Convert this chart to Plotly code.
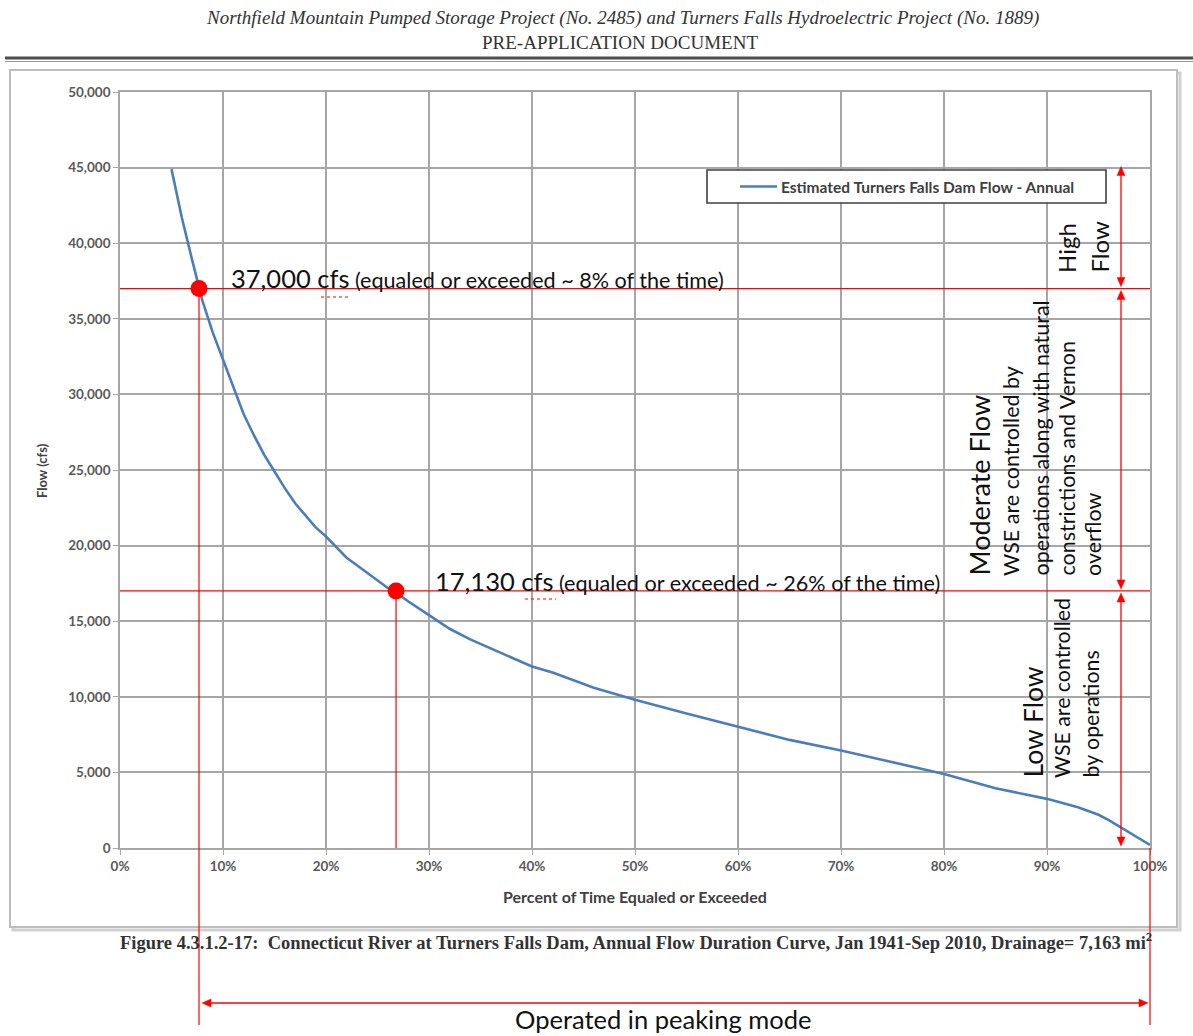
import plotly.graph_objects as go

# ---------------- data ----------------
pct = [5, 6, 7, 7.6, 8, 9, 10, 11, 12, 13, 14, 15, 16, 17, 18, 19, 20, 21, 22, 23,
       24, 25, 26, 27, 28, 30, 32, 34, 36, 38, 40, 42, 44, 46, 48, 50, 55, 60, 65,
       70, 75, 80, 85, 90, 93, 95, 96, 97, 98, 99, 100]
flow = [44900, 41700, 38900, 37300, 36200, 34100, 32300, 30400, 28700, 27300, 26000,
        24900, 23800, 22800, 22000, 21200, 20600, 19900, 19200, 18700, 18200, 17700,
        17200, 16800, 16300, 15400, 14500, 13800, 13200, 12600, 12000, 11600, 11100,
        10600, 10200, 9800, 8900, 8000, 7150, 6450, 5700, 4900, 3950, 3250, 2700,
        2200, 1850, 1450, 1000, 600, 200]
mark_pct = [7.67, 26.8]
mark_flow = [37000, 17000]
thresholds = [37000, 17000]
high_top = 45200
x_ticks = list(range(0, 101, 10))
x_ticktext = [f"{v}%" for v in x_ticks]
y_ticks = list(range(0, 50001, 5000))
series_name = "Estimated Turners Falls Dam Flow - Annual"

# ---------------- geometry (page pixels) ----------------
W, H = 1193, 1036
L, R, T, B = 120, 1150, 92, 848


def px(xp):
    return (xp - L) / (R - L)


def py(yp):
    return (B - yp) / (B - T)


def fy(v):  # flow value -> paper y
    return v / 50000


def fx(v):  # percent -> paper x
    return v / 100


def vpix(v):  # flow value -> page pixel y
    return B - fy(v) * (B - T)


RED = "#ff0000"
GRID = "#a6a6a6"
TXT = "#595959"
SANS = "Lato, 'Open Sans', sans-serif"
SERIF = "'Liberation Serif', 'DejaVu Serif', serif"

fig = go.Figure()
fig.add_trace(go.Scatter(x=pct, y=flow, mode="lines", name=series_name,
                         line=dict(color="#4a7ebb", width=2.6), showlegend=False))
fig.add_trace(go.Scatter(x=mark_pct, y=mark_flow, mode="markers", showlegend=False,
                         marker=dict(color=RED, size=17), cliponaxis=False))

shapes = []
# page frame shadow + frame
shapes.append(dict(type="rect", xref="paper", yref="paper", x0=px(13), x1=px(1180),
                   y0=py(930), y1=py(73), line=dict(color="#d0d0d0", width=3), layer="below"))
shapes.append(dict(type="rect", xref="paper", yref="paper", x0=px(10), x1=px(1177),
                   y0=py(927), y1=py(70), line=dict(color="#bdbdbd", width=2),
                   fillcolor="white", layer="below"))
# header rule (double)
shapes.append(dict(type="line", xref="paper", yref="paper", x0=px(5), x1=px(1193),
                   y0=py(58), y1=py(58), line=dict(color="#4d4d4d", width=3)))
shapes.append(dict(type="line", xref="paper", yref="paper", x0=px(5), x1=px(1193),
                   y0=py(61.5), y1=py(61.5), line=dict(color="#9a9a9a", width=1)))

# red threshold lines
for v in thresholds:
    shapes.append(dict(type="line", xref="x", yref="y", x0=0, x1=100, y0=v, y1=v,
                       line=dict(color=RED, width=1.2)))
# red vertical drop lines
shapes.append(dict(type="line", xref="paper", yref="paper", x0=fx(mark_pct[0]), x1=fx(mark_pct[0]),
                   y0=fy(mark_flow[0]), y1=py(1025), line=dict(color=RED, width=1.2)))
shapes.append(dict(type="line", xref="paper", yref="paper", x0=fx(mark_pct[1]), x1=fx(mark_pct[1]),
                   y0=fy(mark_flow[1]), y1=0, line=dict(color=RED, width=1.2)))
shapes.append(dict(type="line", xref="paper", yref="paper", x0=1, x1=1,
                   y0=0, y1=py(1025), line=dict(color=RED, width=1.2)))
# spell-check squiggles under "cfs"
shapes.append(dict(type="line", xref="paper", yref="paper", x0=px(321), x1=px(350),
                   y0=py(297), y1=py(297), line=dict(color=RED, width=1.2, dash="dot")))
shapes.append(dict(type="line", xref="paper", yref="paper", x0=px(525), x1=px(556),
                   y0=py(599), y1=py(599), line=dict(color=RED, width=1.2, dash="dot")))


def tri(tip_x, tip_y, dx, dy):
    # arrowhead triangle with tip at (tip_x, tip_y)
    hl, hw = 9, 4
    if dx == 0:
        bx0, by0 = tip_x - hw, tip_y + dy * hl
        bx1, by1 = tip_x + hw, tip_y + dy * hl
    else:
        bx0, by0 = tip_x + dx * hl, tip_y - hw
        bx1, by1 = tip_x + dx * hl, tip_y + hw
    return dict(type="path", xref="paper", yref="paper",
                path=f"M {px(tip_x)},{py(tip_y)} L {px(bx0)},{py(by0)} L {px(bx1)},{py(by1)} Z",
                fillcolor=RED, line=dict(color=RED, width=0.5))


xa = 1121
for top_v, bot_v in [(high_top, thresholds[0]), (thresholds[0], thresholds[1]), (thresholds[1], 0)]:
    t_px = vpix(top_v) + 2
    b_px = vpix(bot_v) - 2
    shapes.append(dict(type="line", xref="paper", yref="paper", x0=px(xa), x1=px(xa),
                       y0=py(t_px + 4), y1=py(b_px - 4), line=dict(color=RED, width=1.3)))
    shapes.append(tri(xa, t_px, 0, 1))
    shapes.append(tri(xa, b_px, 0, -1))
# bottom arrow
shapes.append(dict(type="line", xref="paper", yref="paper", x0=px(206), x1=px(1144),
                   y0=py(1003), y1=py(1003), line=dict(color=RED, width=1.3)))
shapes.append(tri(202, 1003, 1, 0))
shapes.append(tri(1148, 1003, -1, 0))

# manual legend box
shapes.append(dict(type="rect", xref="paper", yref="paper", x0=px(707), x1=px(1106),
                   y0=py(203), y1=py(170), line=dict(color="#404040", width=1.6),
                   fillcolor="white"))
shapes.append(dict(type="line", xref="paper", yref="paper", x0=px(740), x1=px(777),
                   y0=py(186.5), y1=py(186.5), line=dict(color="#4a7ebb", width=2.6)))

ann = []


def txt(text, xp, yp, size, family=SANS, color="#111111", xanchor="center", yanchor="middle",
        angle=0, weight="normal"):
    ann.append(dict(text=text, x=px(xp), y=py(yp), xref="paper", yref="paper",
                    xanchor=xanchor, yanchor=yanchor, textangle=angle, showarrow=False,
                    font=dict(family=family, size=size, color=color, weight=weight)))


# headers
txt("<i>Northfield Mountain Pumped Storage Project (No. 2485) and Turners Falls Hydroelectric Project (No. 1889)</i>",
    622, 18, 19, family=SERIF, color="#333333")
txt("PRE-APPLICATION DOCUMENT", 620, 43, 19, family=SERIF, color="#333333")
# caption
txt("<b>Figure 4.3.1.2-17:  Connecticut River at Turners Falls Dam, Annual Flow Duration Curve, Jan 1941-Sep 2010, Drainage= 7,163 mi<sup>2</sup></b>",
    636, 941, 18.5, family=SERIF, color="#333333")
# legend text
txt(series_name, 779, 186.5, 15.5, color="#404040", xanchor="left", weight="bold")

# threshold labels
txt("<span style='font-size:25.5px'>37,000 cfs</span> (equaled or exceeded ~ 8% of the time)",
    229, 295, 21.6, xanchor="left", yanchor="bottom")
txt("<span style='font-size:25.5px'>17,130 cfs</span> (equaled or exceeded ~ 26% of the time)",
    433, 598, 21.6, xanchor="left", yanchor="bottom")

# rotated zone texts: (text, x center px, bottom px, size)
zone_txt = [
    ("High", 1066, 275, 24), ("Flow", 1099, 275, 24),
    ("Moderate Flow", 979, 578, 27), ("WSE are controlled by", 1011, 578, 21.5),
    ("operations along with natural", 1040, 578, 21.5), ("constrictions and Vernon", 1066, 578, 21.5),
    ("overflow", 1093, 578, 21.5),
    ("Low Flow", 1032, 780, 26.5), ("WSE are controlled", 1062, 780, 21.3),
    ("by operations", 1090, 780, 21.3),
]
for t, xc, yb, s in zone_txt:
    txt(t, xc, yb, s, yanchor="bottom", angle=-90)

txt("Operated in peaking mode", 663, 1019, 25.5)

# axis titles
txt("<b>Flow (cfs)</b>", 42, 471, 13, color="#404040", angle=-90)
txt("<b>Percent of Time Equaled or Exceeded</b>", 635, 896, 16, color="#404040")

fig.update_layout(
    width=W, height=H,
    margin=dict(l=L, r=W - R, t=T, b=H - B, pad=0),
    paper_bgcolor="white", plot_bgcolor="white",
    shapes=shapes, annotations=ann, showlegend=False,
    xaxis=dict(range=[0, 100], tickvals=x_ticks, ticktext=x_ticktext, showgrid=True,
               gridcolor=GRID, gridwidth=1.6, showline=True, linecolor=GRID, linewidth=1.6,
               ticks="outside", ticklen=5, tickcolor=GRID, zeroline=False, mirror=True,
               tickfont=dict(family=SANS, size=13.5, color=TXT, weight="bold"), fixedrange=True),
    yaxis=dict(range=[0, 50000], tickvals=y_ticks, tickformat=",d", showgrid=True,
               gridcolor=GRID, gridwidth=1.6, showline=True, linecolor=GRID, linewidth=1.6,
               ticks="outside", ticklen=5, tickcolor=GRID, zeroline=False, mirror=True,
               tickfont=dict(family=SANS, size=13.5, color=TXT, weight="bold"), fixedrange=True),
)

fig.write_html("out.html", config={"displayModeBar": False},
               post_script="document.body.style.margin='0px';")
